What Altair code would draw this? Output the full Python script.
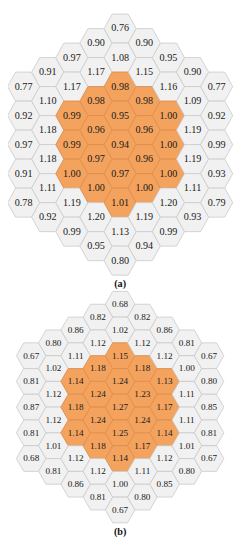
import altair as alt
import pandas as pd

# Panel (a): columns left -> right, values top -> bottom
grid_a = [
    [0.77, 0.92, 0.97, 0.91, 0.78],
    [0.91, 1.10, 1.18, 1.18, 1.11, 0.92],
    [0.97, 1.17, 0.99, 0.99, 1.00, 1.19, 0.99],
    [0.90, 1.17, 0.98, 0.96, 0.97, 1.00, 1.20, 0.95],
    [0.76, 1.08, 0.98, 0.95, 0.94, 0.97, 1.01, 1.13, 0.80],
    [0.90, 1.15, 0.98, 0.96, 0.96, 1.00, 1.19, 0.94],
    [0.95, 1.16, 1.00, 1.00, 1.00, 1.20, 0.99],
    [0.90, 1.09, 1.19, 1.19, 1.11, 0.93],
    [0.77, 0.92, 0.99, 0.93, 0.79],
]
# Panel (b)
grid_b = [
    [0.67, 0.81, 0.87, 0.81, 0.68],
    [0.80, 1.02, 1.12, 1.12, 1.01, 0.81],
    [0.86, 1.11, 1.14, 1.18, 1.14, 1.12, 0.86],
    [0.82, 1.12, 1.18, 1.24, 1.24, 1.18, 1.12, 0.81],
    [0.68, 1.02, 1.15, 1.24, 1.27, 1.25, 1.14, 1.00, 0.67],
    [0.82, 1.12, 1.18, 1.23, 1.24, 1.17, 1.11, 0.80],
    [0.86, 1.12, 1.13, 1.17, 1.14, 1.12, 0.85],
    [0.81, 1.00, 1.11, 1.11, 1.01, 0.80],
    [0.67, 0.80, 0.85, 0.81, 0.67],
]
panel_labels = ["(a)", "(b)"]
core_rings = 2  # inner rings highlighted

# layout (reference pixel space)
layout = {
    "(a)": dict(cx=124.0, cy=140.0, dx=26.0 * 0.96, dy=15.0, label_y=284.0),
    "(b)": dict(cx=124.0, cy=411.5, dx=23.0, dy=13.3, label_y=541.0),
}

rows = []
for name, grid in zip(panel_labels, [grid_a, grid_b]):
    L = layout[name]
    nc = len(grid)
    mid = (nc - 1) // 2
    for c, col in enumerate(grid):
        n = len(col)
        q = c - mid
        for k, v in enumerate(col):
            y2 = 2 * k - (n - 1)
            r = (y2 - q) // 2
            s = -q - r
            ring = max(abs(q), abs(r), abs(s))
            rows.append(dict(
                panel=name, value=v, label=f"{v:.2f}",
                x=L["cx"] + q * L["dx"], y=L["cy"] + y2 * L["dy"],
                zone="core" if ring <= core_rings else "outer",
            ))
df = pd.DataFrame(rows)
lab_df = pd.DataFrame([dict(text=t, x=layout[t]["cx"], y=layout[t]["label_y"]) for t in panel_labels])

HEX_A = "M-0.96,0L-0.48,-0.866L0.48,-0.866L0.96,0L0.48,0.866L-0.48,0.866Z"
HEX_B = "M-1,0L-0.5,-0.866L0.5,-0.866L1,0L0.5,0.866L-0.5,0.866Z"
SERIF = "Times New Roman, Liberation Serif, serif"

X = alt.X("x:Q", scale=alt.Scale(domain=[8, 249], nice=False, zero=False), axis=None)
Y = alt.Y("y:Q", scale=alt.Scale(domain=[8, 550], nice=False, zero=False, reverse=True), axis=None)
FILL = alt.Fill("zone:N", scale=alt.Scale(domain=["core", "outer"], range=["#F3A35E", "#F1F1F1"]), legend=None)
STROKE = alt.Stroke("zone:N", scale=alt.Scale(domain=["core", "outer"], range=["#DE8A48", "#C9C9C9"]), legend=None)

base = alt.Chart(df)
hex_a = base.transform_filter(alt.datum.panel == "(a)").mark_point(
    shape=HEX_A, filled=True, size=4 * 17.33 ** 2, strokeWidth=0.8, opacity=1
).encode(x=X, y=Y, fill=FILL, stroke=STROKE)
hex_b = base.transform_filter(alt.datum.panel == "(b)").mark_point(
    shape=HEX_B, filled=True, size=4 * 15.33 ** 2, strokeWidth=0.8, opacity=1
).encode(x=X, y=Y, fill=FILL, stroke=STROKE)

txt_a = base.transform_filter(alt.datum.panel == "(a)").mark_text(
    font=SERIF, fontSize=10.5, color="#1a1a1a", baseline="middle", align="center"
).encode(x=X, y=Y, text="label:N")
txt_b = base.transform_filter(alt.datum.panel == "(b)").mark_text(
    font=SERIF, fontSize=9.5, color="#1a1a1a", baseline="middle", align="center"
).encode(x=X, y=Y, text="label:N")

labels = alt.Chart(lab_df).mark_text(
    font=SERIF, fontSize=10.5, fontWeight="bold", color="#111111", baseline="middle", align="center"
).encode(x=X, y=Y, text="text:N")

chart = alt.layer(hex_a, hex_b, txt_a, txt_b, labels).properties(
    width=241, height=542, autosize="none", padding=0
).configure_view(stroke=None)

chart.save("out.html", embed_options={"renderer": "svg", "actions": False})
